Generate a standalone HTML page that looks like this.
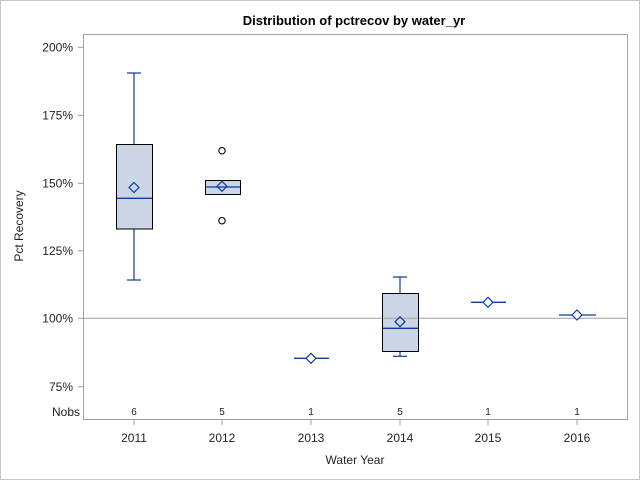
<!DOCTYPE html>
<html><head><meta charset="utf-8"><style>
html,body{margin:0;padding:0;background:#fff;}
svg{display:block;font-family:"Liberation Sans",Arial,sans-serif;}
</style></head><body>
<svg width="640" height="480" viewBox="0 0 640 480">
<rect x="0.5" y="0.5" width="639" height="479" fill="#fff" stroke="#c8c8c8"/>
<text x="354" y="25" text-anchor="middle" font-size="13" font-weight="bold" fill="#000">Distribution of pctrecov by water_yr</text>
<rect x="83.5" y="34.5" width="544" height="385" fill="none" stroke="#a0a0a0"/>
<!-- y ticks -->
<g stroke="#a0a0a0">
<line x1="78" y1="47.3" x2="83" y2="47.3"/>
<line x1="78" y1="115.3" x2="83" y2="115.3"/>
<line x1="78" y1="183.3" x2="83" y2="183.3"/>
<line x1="78" y1="250.8" x2="83" y2="250.8"/>
<line x1="78" y1="318.3" x2="83" y2="318.3"/>
<line x1="78" y1="386.7" x2="83" y2="386.7"/>
</g>
<g font-size="12" fill="#222" text-anchor="end">
<text x="73" y="51.5">200%</text>
<text x="73" y="119.5">175%</text>
<text x="73" y="187.5">150%</text>
<text x="73" y="255">125%</text>
<text x="73" y="322.5">100%</text>
<text x="73" y="391">75%</text>
<text x="80" y="416">Nobs</text>
</g>
<text transform="translate(23,226) rotate(-90)" text-anchor="middle" font-size="12" fill="#222">Pct Recovery</text>
<line x1="84" y1="318.3" x2="627" y2="318.3" stroke="#a0a0a0"/>
<!-- x ticks -->
<g stroke="#a0a0a0">
<line x1="134" y1="420" x2="134" y2="425"/><line x1="222" y1="420" x2="222" y2="425"/>
<line x1="311" y1="420" x2="311" y2="425"/><line x1="400" y1="420" x2="400" y2="425"/>
<line x1="488" y1="420" x2="488" y2="425"/><line x1="577" y1="420" x2="577" y2="425"/>
</g>
<g font-size="12" fill="#222" text-anchor="middle">
<text x="134" y="442">2011</text><text x="222" y="442">2012</text><text x="311" y="442">2013</text>
<text x="400" y="442">2014</text><text x="488" y="442">2015</text><text x="577" y="442">2016</text>
<text x="355" y="464">Water Year</text>
</g>
<g font-size="10" fill="#222" text-anchor="middle">
<text x="134" y="415">6</text><text x="222" y="415">5</text><text x="311" y="415">1</text>
<text x="400" y="415">5</text><text x="488" y="415">1</text><text x="577" y="415">1</text>
</g>
<!-- 2011 -->
<g stroke="#0a3ca0" fill="none" stroke-width="1.2">
<line x1="134" y1="73" x2="134" y2="144"/><line x1="127" y1="73" x2="141" y2="73"/>
<line x1="134" y1="229" x2="134" y2="280"/><line x1="127" y1="280" x2="141" y2="280"/>
</g>
<rect x="116.5" y="144.5" width="36" height="84.5" fill="#cbd5e5" stroke="#000"/>
<line x1="117" y1="198.3" x2="152" y2="198.3" stroke="#0a3ca0" stroke-width="1.3"/>
<path d="M134 182.5 L139 187.5 L134 192.5 L129 187.5 Z" fill="none" stroke="#0a3ca0" stroke-width="1.2"/>
<!-- 2012 -->
<rect x="205.5" y="180.5" width="35" height="14" fill="#cbd5e5" stroke="#000"/>
<line x1="206" y1="187" x2="240" y2="187" stroke="#0a3ca0" stroke-width="1.3"/>
<path d="M222 181.3 L227 186.3 L222 191.3 L217 186.3 Z" fill="none" stroke="#0a3ca0" stroke-width="1.2"/>
<circle cx="222" cy="150.7" r="3.2" fill="none" stroke="#000" stroke-width="1.1"/>
<circle cx="222" cy="220.7" r="3.2" fill="none" stroke="#000" stroke-width="1.1"/>
<!-- 2013 -->
<line x1="294" y1="358.3" x2="329" y2="358.3" stroke="#0a3ca0" stroke-width="1.3"/>
<path d="M311 353.3 L316 358.3 L311 363.3 L306 358.3 Z" fill="#fff" stroke="#0a3ca0" stroke-width="1.2"/>
<!-- 2014 -->
<g stroke="#0a3ca0" fill="none" stroke-width="1.2">
<line x1="400" y1="277" x2="400" y2="293"/><line x1="393" y1="277" x2="407" y2="277"/>
<line x1="400" y1="351" x2="400" y2="356.3"/><line x1="393" y1="356.3" x2="407" y2="356.3"/>
</g>
<rect x="382.5" y="293.5" width="36" height="58" fill="#cbd5e5" stroke="#000"/>
<line x1="383" y1="328.3" x2="418" y2="328.3" stroke="#0a3ca0" stroke-width="1.3"/>
<line x1="383" y1="318.3" x2="418" y2="318.3" stroke="#a0a0a0"/>
<path d="M400 316.7 L405 321.7 L400 326.7 L395 321.7 Z" fill="none" stroke="#0a3ca0" stroke-width="1.2"/>
<!-- 2015 -->
<line x1="471" y1="302.3" x2="506" y2="302.3" stroke="#0a3ca0" stroke-width="1.3"/>
<path d="M488 297.3 L493 302.3 L488 307.3 L483 302.3 Z" fill="#fff" stroke="#0a3ca0" stroke-width="1.2"/>
<!-- 2016 -->
<line x1="559" y1="315" x2="596" y2="315" stroke="#0a3ca0" stroke-width="1.3"/>
<path d="M577 310 L582 315 L577 320 L572 315 Z" fill="#fff" stroke="#0a3ca0" stroke-width="1.2"/>
</svg>
</body></html>
